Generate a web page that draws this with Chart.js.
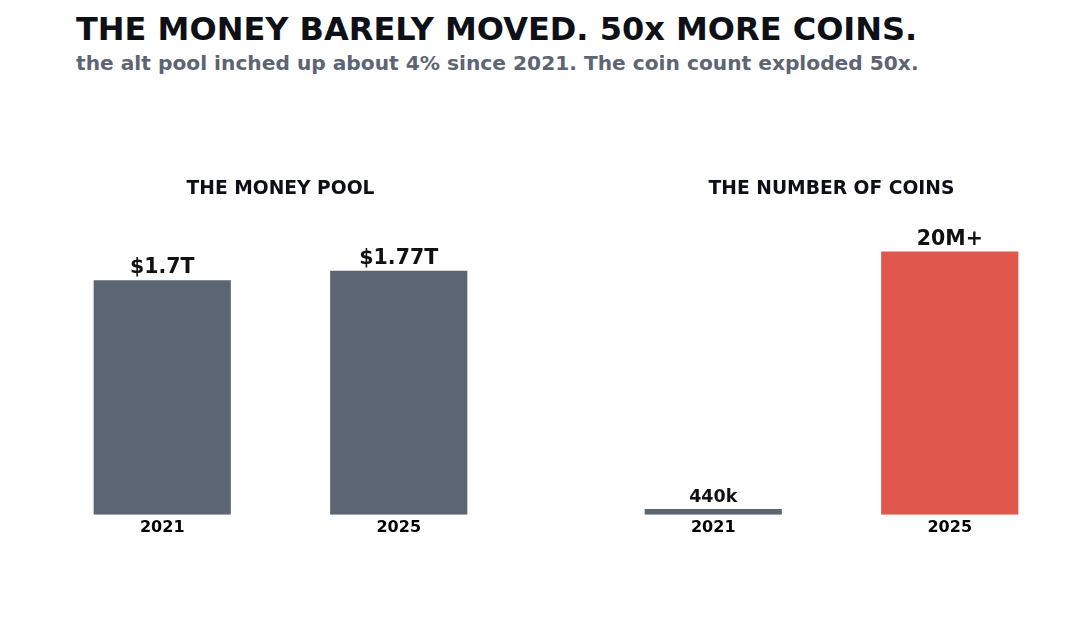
<!DOCTYPE html>
<html>
<head>
<meta charset="utf-8">
<script src="https://cdn.jsdelivr.net/npm/chart.js@4.4.1/dist/chart.umd.min.js"></script>
<style>
  body { margin: 0; background: #fff; width: 1080px; height: 620px; position: relative; overflow: hidden;
         font-family: "DejaVu Sans", sans-serif; }
  #title { position: absolute; left: 76px; top: 13px; font-size: 32px; line-height: 32px; font-weight: bold; color: #0d1117; white-space: nowrap; }
  #subtitle { position: absolute; left: 76px; top: 53px; font-size: 20.2px; line-height: 20px; font-weight: bold; color: #5b6574; white-space: nowrap; }
  canvas { position: absolute; top: 160px; }
  #poolChart { left: 44px; }
  #coinChart { left: 595px; }
</style>
</head>
<body>
<div id="title">THE MONEY BARELY MOVED. 50x MORE COINS.</div>
<div id="subtitle">the alt pool inched up about 4% since 2021. The coin count exploded 50x.</div>
<canvas id="poolChart" width="473" height="380"></canvas>
<canvas id="coinChart" width="473" height="380"></canvas>
<script>
// data
const years = ['2021', '2025'];
const poolValues = [1.7, 1.77];          // trillions USD
const poolLabels = ['$1.7T', '$1.77T'];
const coinValues = [0.44, 20];           // millions of coins
const coinLabels = ['440k', '20M+'];

// styles
const GRAY = '#5b6573';
const RED = '#e0574c';
const FONT = '"DejaVu Sans", sans-serif';

// draws the value text above each bar
const valueLabels = {
    id: 'valueLabels',
    afterDatasetsDraw(chart, args, opts) {
        const ctx = chart.ctx;
        const bars = chart.getDatasetMeta(0).data;
        ctx.save();
        ctx.fillStyle = '#111';
        ctx.textAlign = 'center';
        ctx.textBaseline = 'alphabetic';
        bars.forEach((bar, i) => {
            ctx.font = 'bold ' + opts.sizes[i] + 'px ' + FONT;
            ctx.fillText(opts.texts[i], bar.x, bar.y - 7);
        });
        ctx.restore();
    }
};

function makeChart(id, title, values, texts, colors, yMax, sizes) {
    let ctx = document.getElementById(id).getContext('2d');
    return new Chart(ctx, {
        type: 'bar',
        data: {
            labels: years,
            datasets: [{
                data: values,
                backgroundColor: colors,
                borderWidth: 0,
                barPercentage: 0.58,
                categoryPercentage: 1
            }]
        },
        options: {
            responsive: false,
            animation: false,
            layout: { padding: 0 },
            plugins: {
                legend: { display: false },
                tooltip: { enabled: false },
                title: {
                    display: true,
                    text: title,
                    color: '#0d1117',
                    font: { family: FONT, size: 18.7, weight: 'bold', lineHeight: 1.2 },
                    padding: { top: 18, bottom: 30 }
                },
                valueLabels: { texts: texts, sizes: sizes }
            },
            scales: {
                x: {
                    grid: { display: false, drawTicks: false },
                    border: { display: false },
                    ticks: { color: '#000', padding: 3, font: { family: FONT, size: 16, weight: 'bold' } }
                },
                y: {
                    display: false,
                    min: 0,
                    max: yMax
                }
            }
        },
        plugins: [valueLabels]
    });
}

makeChart('poolChart', 'THE MONEY POOL', poolValues, poolLabels, [GRAY, GRAY], 2.062, [20.5, 20.5]);
makeChart('coinChart', 'THE NUMBER OF COINS', coinValues, coinLabels, [GRAY, RED], 21.6, [17.5, 20.5]);
</script>
</body>
</html>
